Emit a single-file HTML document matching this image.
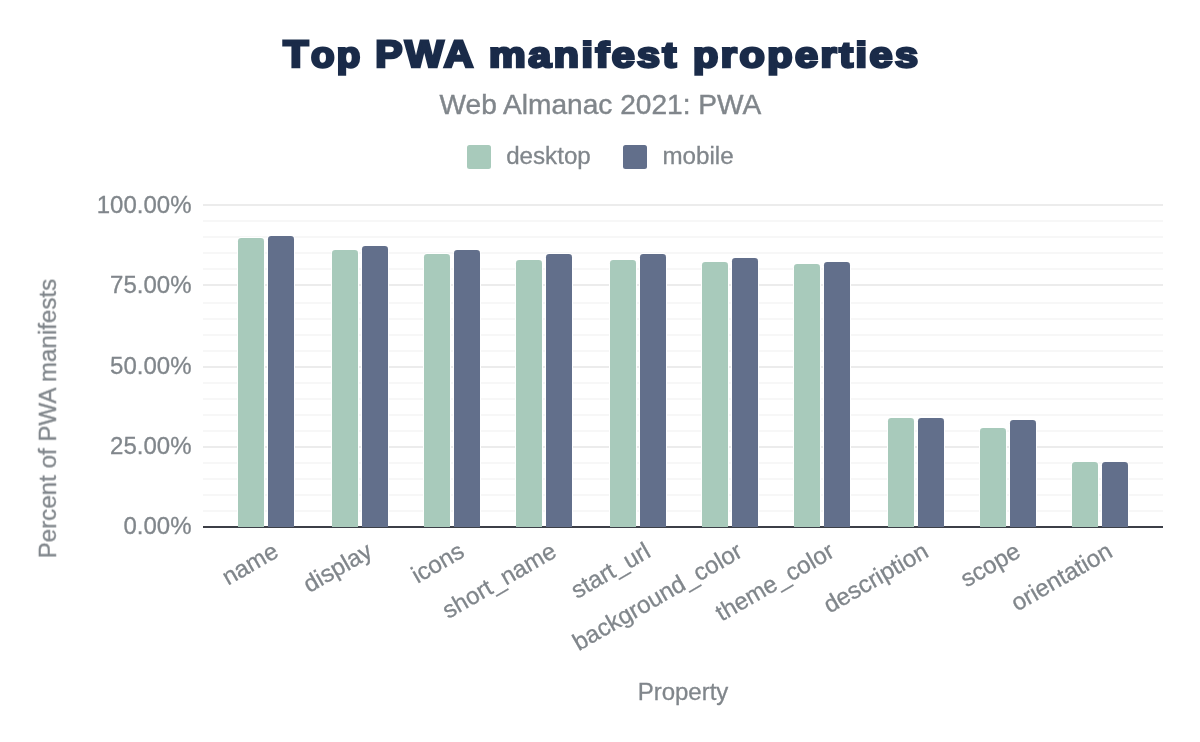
<!DOCTYPE html>
<html><head><meta charset="utf-8"><title>Top PWA manifest properties</title>
<style>
html,body{margin:0;padding:0;background:#fff;}
body{width:1200px;height:742px;overflow:hidden;font-family:"Liberation Sans",sans-serif;}
svg{display:block}
text{font-family:"Liberation Sans",sans-serif;}
.g text{stroke:#80868b;stroke-width:0.3px;}
</style></head><body>
<svg width="1200" height="742" viewBox="0 0 1200 742">
<rect width="1200" height="742" fill="#ffffff"/>
<g opacity="0.999" class="g">
<text class="tw" text-rendering="geometricPrecision" style="stroke:#1a2b49;stroke-width:2.7px" letter-spacing="2.2" x="283.35" y="67.2" font-size="35.5" font-weight="700" fill="#1a2b49" stroke-linejoin="miter" stroke-miterlimit="2.5" textLength="79.30" lengthAdjust="spacingAndGlyphs"><tspan font-size="38.1">T</tspan>op</text>
<text class="tw" text-rendering="geometricPrecision" style="stroke:#1a2b49;stroke-width:2.7px" letter-spacing="2.2" x="375.35" y="67.2" font-size="35.5" font-weight="700" fill="#1a2b49" stroke-linejoin="miter" stroke-miterlimit="2.5" textLength="100.40" lengthAdjust="spacingAndGlyphs"><tspan font-size="38.1">P</tspan><tspan font-size="38.1">W</tspan><tspan font-size="38.1">A</tspan></text>
<text class="tw" text-rendering="geometricPrecision" style="stroke:#1a2b49;stroke-width:2.7px" letter-spacing="2.2" x="489.05" y="67.2" font-size="35.5" font-weight="700" fill="#1a2b49" stroke-linejoin="miter" stroke-miterlimit="2.5" textLength="189.80" lengthAdjust="spacingAndGlyphs">manifest</text>
<text class="tw" text-rendering="geometricPrecision" style="stroke:#1a2b49;stroke-width:2.7px" letter-spacing="2.2" x="693.05" y="67.2" font-size="35.5" font-weight="700" fill="#1a2b49" stroke-linejoin="miter" stroke-miterlimit="2.5" textLength="227.60" lengthAdjust="spacingAndGlyphs">properties</text>
<text id="subtitle" style="stroke-width:0.42px" x="600.4" y="114" text-anchor="middle" font-size="28.1" fill="#80868b">Web Almanac 2021: PWA</text>
<rect x="467" y="145" width="24" height="24" rx="2.5" fill="#a8cabb"/><text id="leg1" x="506.2" y="163.7" font-size="24.15" fill="#80868b">desktop</text>
<rect x="623" y="145" width="24" height="24" rx="2.5" fill="#626f8b"/><text id="leg2" x="662.5" y="163.7" font-size="24.15" fill="#80868b">mobile</text>
<rect x="203" y="204" width="960" height="2" fill="#ececec"/><rect x="203" y="220" width="960" height="2" fill="#f7f7f7"/><rect x="203" y="236" width="960" height="2" fill="#f7f7f7"/><rect x="203" y="252" width="960" height="2" fill="#f7f7f7"/><rect x="203" y="268" width="960" height="2" fill="#f7f7f7"/><rect x="203" y="284" width="960" height="2" fill="#ececec"/><rect x="203" y="302" width="960" height="2" fill="#f7f7f7"/><rect x="203" y="318" width="960" height="2" fill="#f7f7f7"/><rect x="203" y="334" width="960" height="2" fill="#f7f7f7"/><rect x="203" y="350" width="960" height="2" fill="#f7f7f7"/><rect x="203" y="366" width="960" height="2" fill="#ececec"/><rect x="203" y="382" width="960" height="2" fill="#f7f7f7"/><rect x="203" y="398" width="960" height="2" fill="#f7f7f7"/><rect x="203" y="414" width="960" height="2" fill="#f7f7f7"/><rect x="203" y="430" width="960" height="2" fill="#f7f7f7"/><rect x="203" y="446" width="960" height="2" fill="#ececec"/><rect x="203" y="462" width="960" height="2" fill="#f7f7f7"/><rect x="203" y="478" width="960" height="2" fill="#f7f7f7"/><rect x="203" y="494" width="960" height="2" fill="#f7f7f7"/><rect x="203" y="510" width="960" height="2" fill="#f7f7f7"/>
<rect x="203" y="526" width="960" height="2" fill="#3c3f47"/>
<path d="M237 526 V241.2 A4.2 4.2 0 0 1 241.2 237 H260.8 A4.2 4.2 0 0 1 265 241.2 V526 Z" fill="#ffffff"/><path d="M238 527 V241.2 A3.2 3.2 0 0 1 241.2 238 H260.8 A3.2 3.2 0 0 1 264 241.2 V527 Z" fill="#a8cabb"/><path d="M267 526 V239.2 A4.2 4.2 0 0 1 271.2 235 H290.8 A4.2 4.2 0 0 1 295 239.2 V526 Z" fill="#ffffff"/><path d="M268 527 V239.2 A3.2 3.2 0 0 1 271.2 236 H290.8 A3.2 3.2 0 0 1 294 239.2 V527 Z" fill="#626f8b"/>
<path d="M331 526 V253.2 A4.2 4.2 0 0 1 335.2 249 H354.8 A4.2 4.2 0 0 1 359 253.2 V526 Z" fill="#ffffff"/><path d="M332 527 V253.2 A3.2 3.2 0 0 1 335.2 250 H354.8 A3.2 3.2 0 0 1 358 253.2 V527 Z" fill="#a8cabb"/><path d="M361 526 V249.2 A4.2 4.2 0 0 1 365.2 245 H384.8 A4.2 4.2 0 0 1 389 249.2 V526 Z" fill="#ffffff"/><path d="M362 527 V249.2 A3.2 3.2 0 0 1 365.2 246 H384.8 A3.2 3.2 0 0 1 388 249.2 V527 Z" fill="#626f8b"/>
<path d="M423 526 V257.2 A4.2 4.2 0 0 1 427.2 253 H446.8 A4.2 4.2 0 0 1 451 257.2 V526 Z" fill="#ffffff"/><path d="M424 527 V257.2 A3.2 3.2 0 0 1 427.2 254 H446.8 A3.2 3.2 0 0 1 450 257.2 V527 Z" fill="#a8cabb"/><path d="M453 526 V253.2 A4.2 4.2 0 0 1 457.2 249 H476.8 A4.2 4.2 0 0 1 481 253.2 V526 Z" fill="#ffffff"/><path d="M454 527 V253.2 A3.2 3.2 0 0 1 457.2 250 H476.8 A3.2 3.2 0 0 1 480 253.2 V527 Z" fill="#626f8b"/>
<path d="M515 526 V263.2 A4.2 4.2 0 0 1 519.2 259 H538.8 A4.2 4.2 0 0 1 543 263.2 V526 Z" fill="#ffffff"/><path d="M516 527 V263.2 A3.2 3.2 0 0 1 519.2 260 H538.8 A3.2 3.2 0 0 1 542 263.2 V527 Z" fill="#a8cabb"/><path d="M545 526 V257.2 A4.2 4.2 0 0 1 549.2 253 H568.8 A4.2 4.2 0 0 1 573 257.2 V526 Z" fill="#ffffff"/><path d="M546 527 V257.2 A3.2 3.2 0 0 1 549.2 254 H568.8 A3.2 3.2 0 0 1 572 257.2 V527 Z" fill="#626f8b"/>
<path d="M609 526 V263.2 A4.2 4.2 0 0 1 613.2 259 H632.8 A4.2 4.2 0 0 1 637 263.2 V526 Z" fill="#ffffff"/><path d="M610 527 V263.2 A3.2 3.2 0 0 1 613.2 260 H632.8 A3.2 3.2 0 0 1 636 263.2 V527 Z" fill="#a8cabb"/><path d="M639 526 V257.2 A4.2 4.2 0 0 1 643.2 253 H662.8 A4.2 4.2 0 0 1 667 257.2 V526 Z" fill="#ffffff"/><path d="M640 527 V257.2 A3.2 3.2 0 0 1 643.2 254 H662.8 A3.2 3.2 0 0 1 666 257.2 V527 Z" fill="#626f8b"/>
<path d="M701 526 V265.2 A4.2 4.2 0 0 1 705.2 261 H724.8 A4.2 4.2 0 0 1 729 265.2 V526 Z" fill="#ffffff"/><path d="M702 527 V265.2 A3.2 3.2 0 0 1 705.2 262 H724.8 A3.2 3.2 0 0 1 728 265.2 V527 Z" fill="#a8cabb"/><path d="M731 526 V261.2 A4.2 4.2 0 0 1 735.2 257 H754.8 A4.2 4.2 0 0 1 759 261.2 V526 Z" fill="#ffffff"/><path d="M732 527 V261.2 A3.2 3.2 0 0 1 735.2 258 H754.8 A3.2 3.2 0 0 1 758 261.2 V527 Z" fill="#626f8b"/>
<path d="M793 526 V267.2 A4.2 4.2 0 0 1 797.2 263 H816.8 A4.2 4.2 0 0 1 821 267.2 V526 Z" fill="#ffffff"/><path d="M794 527 V267.2 A3.2 3.2 0 0 1 797.2 264 H816.8 A3.2 3.2 0 0 1 820 267.2 V527 Z" fill="#a8cabb"/><path d="M823 526 V265.2 A4.2 4.2 0 0 1 827.2 261 H846.8 A4.2 4.2 0 0 1 851 265.2 V526 Z" fill="#ffffff"/><path d="M824 527 V265.2 A3.2 3.2 0 0 1 827.2 262 H846.8 A3.2 3.2 0 0 1 850 265.2 V527 Z" fill="#626f8b"/>
<path d="M887 526 V421.2 A4.2 4.2 0 0 1 891.2 417 H910.8 A4.2 4.2 0 0 1 915 421.2 V526 Z" fill="#ffffff"/><path d="M888 527 V421.2 A3.2 3.2 0 0 1 891.2 418 H910.8 A3.2 3.2 0 0 1 914 421.2 V527 Z" fill="#a8cabb"/><path d="M917 526 V421.2 A4.2 4.2 0 0 1 921.2 417 H940.8 A4.2 4.2 0 0 1 945 421.2 V526 Z" fill="#ffffff"/><path d="M918 527 V421.2 A3.2 3.2 0 0 1 921.2 418 H940.8 A3.2 3.2 0 0 1 944 421.2 V527 Z" fill="#626f8b"/>
<path d="M979 526 V431.2 A4.2 4.2 0 0 1 983.2 427 H1002.8 A4.2 4.2 0 0 1 1007 431.2 V526 Z" fill="#ffffff"/><path d="M980 527 V431.2 A3.2 3.2 0 0 1 983.2 428 H1002.8 A3.2 3.2 0 0 1 1006 431.2 V527 Z" fill="#a8cabb"/><path d="M1009 526 V423.2 A4.2 4.2 0 0 1 1013.2 419 H1032.8 A4.2 4.2 0 0 1 1037 423.2 V526 Z" fill="#ffffff"/><path d="M1010 527 V423.2 A3.2 3.2 0 0 1 1013.2 420 H1032.8 A3.2 3.2 0 0 1 1036 423.2 V527 Z" fill="#626f8b"/>
<path d="M1071 526 V465.2 A4.2 4.2 0 0 1 1075.2 461 H1094.8 A4.2 4.2 0 0 1 1099 465.2 V526 Z" fill="#ffffff"/><path d="M1072 527 V465.2 A3.2 3.2 0 0 1 1075.2 462 H1094.8 A3.2 3.2 0 0 1 1098 465.2 V527 Z" fill="#a8cabb"/><path d="M1101 526 V465.2 A4.2 4.2 0 0 1 1105.2 461 H1124.8 A4.2 4.2 0 0 1 1129 465.2 V526 Z" fill="#ffffff"/><path d="M1102 527 V465.2 A3.2 3.2 0 0 1 1105.2 462 H1124.8 A3.2 3.2 0 0 1 1128 465.2 V527 Z" fill="#626f8b"/>
<text x="191.5" y="213.0" text-anchor="end" font-size="24" fill="#80868b">100.00%</text>
<text x="191.5" y="293.2" text-anchor="end" font-size="24" fill="#80868b">75.00%</text>
<text x="191.5" y="373.8" text-anchor="end" font-size="24" fill="#80868b">50.00%</text>
<text x="191.5" y="454.1" text-anchor="end" font-size="24" fill="#80868b">25.00%</text>
<text x="191.5" y="534.4" text-anchor="end" font-size="24" fill="#80868b">0.00%</text>
<text id="ytitle" transform="translate(55.9,418.6) rotate(-90)" text-anchor="middle" font-size="24.15" fill="#80868b">Percent of PWA manifests</text>
<text id="xtitle" x="683" y="700" text-anchor="middle" font-size="24" fill="#80868b">Property</text>
<text transform="translate(280,555.8) rotate(-30)" text-anchor="end" font-size="24" fill="#80868b">name</text>
<text transform="translate(374,555.8) rotate(-30)" text-anchor="end" font-size="24" fill="#80868b">display</text>
<text transform="translate(466,555.8) rotate(-30)" text-anchor="end" font-size="24" fill="#80868b">icons</text>
<text transform="translate(558,555.8) rotate(-30)" text-anchor="end" font-size="24" fill="#80868b">short_name</text>
<text transform="translate(652,555.8) rotate(-30)" text-anchor="end" font-size="24" fill="#80868b">start_url</text>
<text transform="translate(744,555.8) rotate(-30)" text-anchor="end" font-size="24" fill="#80868b">background_color</text>
<text transform="translate(836,555.8) rotate(-30)" text-anchor="end" font-size="24" fill="#80868b">theme_color</text>
<text transform="translate(930,555.8) rotate(-30)" text-anchor="end" font-size="24" fill="#80868b">description</text>
<text transform="translate(1022,555.8) rotate(-30)" text-anchor="end" font-size="24" fill="#80868b">scope</text>
<text transform="translate(1114,555.8) rotate(-30)" text-anchor="end" font-size="24" fill="#80868b">orientation</text>
</g></svg></body></html>
